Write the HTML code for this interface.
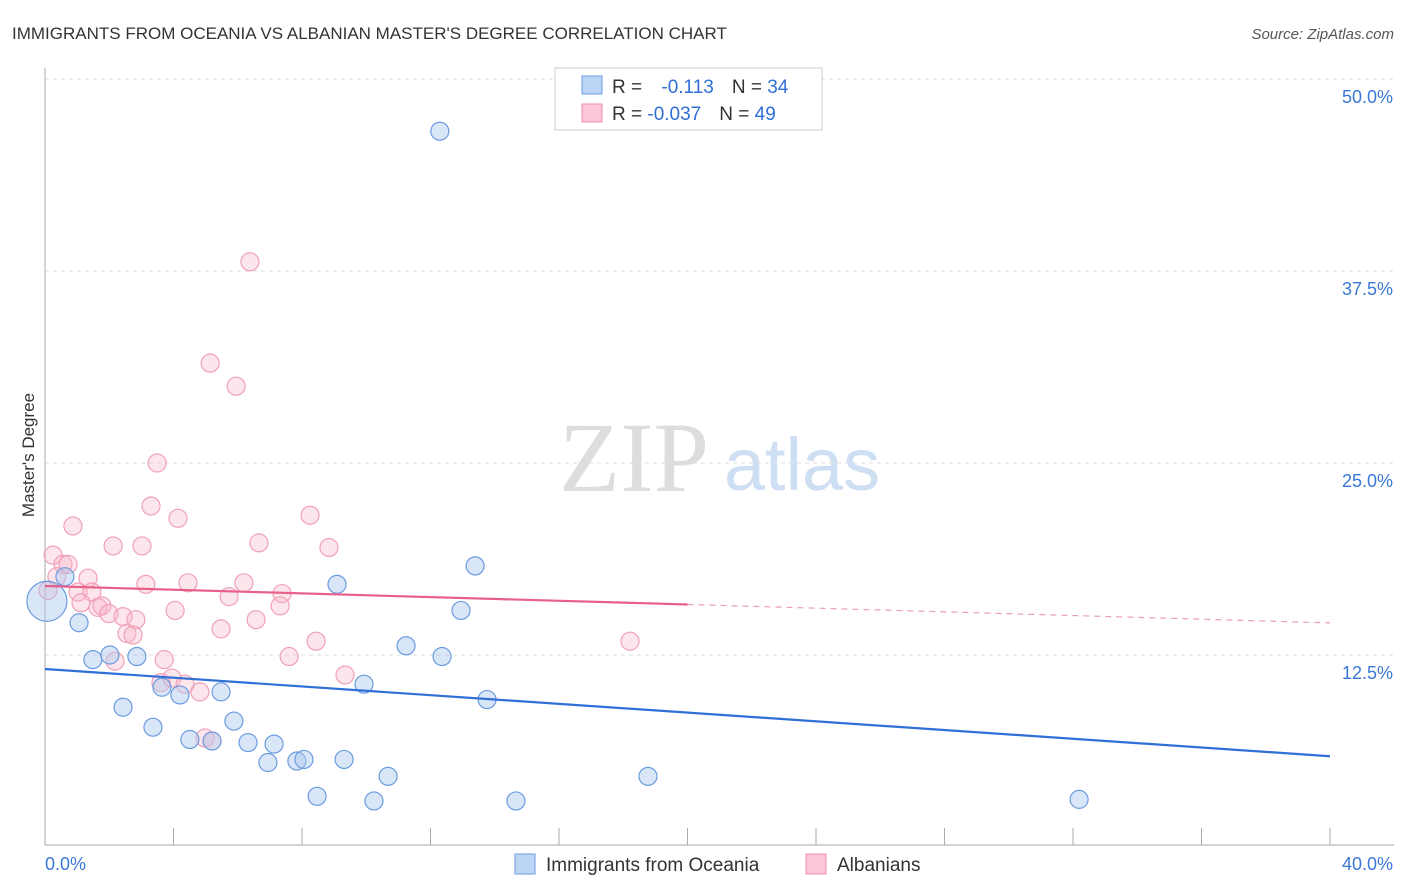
<!DOCTYPE html>
<html><head><meta charset="utf-8"><style>
body{margin:0;background:#fff;font-family:"Liberation Sans",sans-serif}
svg{display:block}
</style></head><body>
<svg id="c" width="1406" height="892">
<text x="12" y="39" font-size="17" fill="#333">IMMIGRANTS FROM OCEANIA VS ALBANIAN MASTER'S DEGREE CORRELATION CHART</text>
<text x="1394" y="39" font-size="15" fill="#555" font-style="italic" text-anchor="end">Source: ZipAtlas.com</text>
<text x="634" y="491" font-size="100" fill="#ddd" font-family="Liberation Serif,serif" text-anchor="middle">ZIP</text>
<text x="802" y="490" font-size="74" fill="#cfdff3" text-anchor="middle">atlas</text>
<text transform="translate(34,455) rotate(-90)" font-size="17" fill="#333" text-anchor="middle">Master's Degree</text>
<g id="grid"></g><g id="pts"></g><g id="lines"></g>
<g>
<rect x="555" y="68" width="267" height="62" fill="#fff" stroke="#ccc"/>
<rect x="582" y="76" width="20" height="18" fill="#bcd5f5" stroke="#6b9be0"/>
<rect x="582" y="104" width="20" height="18" fill="#fcc8d8" stroke="#eb8fab"/>
<text x="612" y="93" font-size="19" fill="#333">R = <tspan fill="#2f6fd6" dx="14">-0.113</tspan><tspan dx="18" fill="#333">N = </tspan><tspan fill="#2f6fd6">34</tspan></text>
<text x="612" y="120" font-size="19" fill="#333">R = <tspan fill="#2f6fd6">-0.037</tspan><tspan dx="18" fill="#333">N = </tspan><tspan fill="#2f6fd6">49</tspan></text>
</g>
<g>
<rect x="515" y="854" width="20" height="20" fill="#bcd5f5" stroke="#6b9be0"/>
<text x="546" y="871" font-size="19" fill="#333">Immigrants from Oceania</text>
<rect x="806" y="854" width="20" height="20" fill="#fcc8d8" stroke="#eb8fab"/>
<text x="837" y="871" font-size="19" fill="#333">Albanians</text>
</g>
</svg>
<script>
const yTicks=[12.5,25,37.5,50];
const yTickLabels=["12.5%","25.0%","37.5%","50.0%"];
const xTicks=[0,4,8,12,16,20,24,28,32,36,40];
const oceaniaX=[12.29,0.62,0.06,1.06,1.49,2.02,2.86,2.43,3.36,3.64,4.2,4.51,5.2,5.48,5.88,6.32,6.94,7.13,7.84,8.06,8.47,9.09,9.31,9.93,10.24,10.68,11.24,12.36,12.95,13.39,13.76,14.66,18.77,32.19];
const oceaniaY=[46.6,17.6,16.0,14.6,12.2,12.5,12.4,9.1,7.8,10.4,9.9,7.0,6.9,10.1,8.2,6.8,5.5,6.7,5.6,5.7,3.3,17.1,5.7,10.6,3.0,4.6,13.1,12.4,15.4,18.3,9.6,3.0,4.6,3.1];
const albX=[6.38,5.14,5.95,3.49,3.3,4.14,0.87,8.25,6.66,2.12,3.02,8.84,0.25,0.56,0.72,1.34,0.37,3.14,4.45,6.19,1.03,1.46,0.09,5.73,7.38,1.12,1.65,1.77,1.99,2.43,7.32,2.83,6.57,4.05,5.48,2.55,2.74,8.44,2.18,3.71,7.6,18.21,9.34,3.95,3.61,4.36,4.82,4.98,5.2];
const albY=[38.1,31.5,30.0,25.0,22.2,21.4,20.9,21.6,19.8,19.6,19.6,19.5,19.0,18.4,18.4,17.5,17.6,17.1,17.2,17.2,16.6,16.6,16.7,16.3,16.5,15.9,15.6,15.7,15.2,15.0,15.7,14.8,14.8,15.4,14.2,13.9,13.8,13.4,12.1,12.2,12.4,13.4,11.2,11.0,10.7,10.6,10.1,7.1,6.9];
const oceaniaFit=[11.59,-0.142];
const albFit=[16.99,-0.060];
const X=v=>45+v*32.125, Y=v=>847-v*15.36;
const ns="http://www.w3.org/2000/svg", svg=document.getElementById('c');
function mk(t,a,p){const e=document.createElementNS(ns,t);for(const k in a)e.setAttribute(k,a[k]);(p||svg).appendChild(e);return e;}
const grid=document.getElementById('grid');
yTicks.forEach((v,i)=>{
 const l=mk('line',{x1:45,x2:1394,y1:Y(v),y2:Y(v),stroke:'#ddd','stroke-dasharray':'4,4'},grid);
 
 
 const t=mk('text',{x:1393,y:Y(v)+24,'font-size':18,fill:'#3a78d8','text-anchor':'end'},grid);
 t.textContent=yTickLabels[i];
 
 
});
const ax=mk('line',{x1:45,x2:45,y1:68,y2:845,stroke:'#aaa'},grid);


const bx=mk('line',{x1:45,x2:1394,y1:845,y2:845,stroke:'#aaa'},grid);


xTicks.forEach(v=>{const t=mk('line',{x1:X(v),x2:X(v),y1:828,y2:845,stroke:'#aaa'},grid);
 
 });
[[0,'0.0%',45,'start'],[40,'40.0%',1393,'end']].forEach(d=>{const t=mk('text',{x:d[2],y:870,'font-size':18,fill:'#3a78d8','text-anchor':d[3]},grid);t.textContent=d[1];
 
 });
const pts=document.getElementById('pts');
albX.forEach((v,i)=>{const c=mk('circle',{cx:X(v),cy:Y(albY[i]),r:9,fill:'rgba(248,180,200,0.35)',stroke:'#f0a0b8','stroke-width':1.2},pts);
 
 });
oceaniaX.forEach((v,i)=>{const c=mk('circle',{cx:X(v),cy:Y(oceaniaY[i]),r:i==2?20:9,fill:'rgba(170,200,240,0.45)',stroke:'#6b9be0','stroke-width':1.2},pts);
 
 });
const lg=document.getElementById('lines');
const bl=mk('line',{x1:X(0),y1:Y(oceaniaFit[0]),x2:X(40),y2:Y(oceaniaFit[0]+40*oceaniaFit[1]),stroke:'#2f6fd6','stroke-width':2.2},lg);


const pl=mk('line',{x1:X(0),y1:Y(albFit[0]),x2:X(20),y2:Y(albFit[0]+20*albFit[1]),stroke:'#e8608a','stroke-width':2.2},lg);


const pd=mk('line',{x1:X(20),y1:Y(albFit[0]+20*albFit[1]),x2:X(40),y2:Y(albFit[0]+40*albFit[1]),stroke:'#e8a0b8','stroke-width':1.2,'stroke-dasharray':'6,5'},lg);


</script>
</body></html>
